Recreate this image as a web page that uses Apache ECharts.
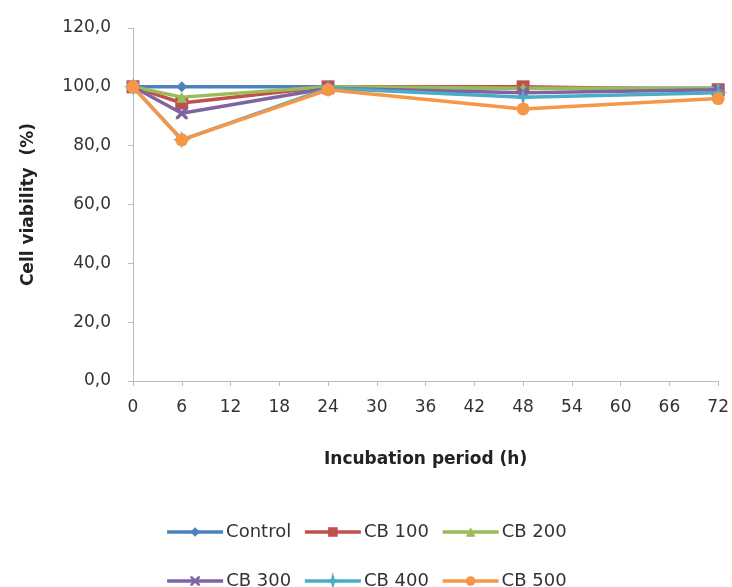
<!DOCTYPE html>
<html><head><meta charset="utf-8">
<script src="https://cdn.jsdelivr.net/npm/echarts@6/dist/echarts.min.js"></script>
<style>html,body{margin:0;padding:0;background:#fff}#c{width:732px;height:587px}</style>
</head><body><div id="c"></div>
<script>
const hours = [0, 6, 24, 48, 72];
const seriesNames = ['Control', 'CB 100', 'CB 200', 'CB 300', 'CB 400', 'CB 500'];
const control = [100, 100, 100, 99.5, 99.5];
const cb100 = [100, 94.5, 100, 100, 99];
const cb200 = [100, 96.5, 100, 99.5, 99.5];
const cb300 = [100, 91, 99.5, 98, 99];
const cb400 = [100, 82, 99.5, 96.5, 98];
const cb500 = [100, 82, 99, 92.5, 96];
const colors = ['#4F81BD', '#C0504D', '#9BBB59', '#8064A2', '#4BACC6', '#F79646'];
const symbols = ['diamond', 'rect', 'triangle',
  'path://M0,0 L2,0 L5,3 L8,0 L10,0 L10,2 L7,5 L10,8 L10,10 L8,10 L5,7 L2,10 L0,10 L0,8 L3,5 L0,2 Z',
  'path://M5,0 L6,4 L10,5 L6,6 L5,10 L4,6 L0,5 L4,4 Z',
  'circle'];
const symbolSizes = [11, 13, 11, 12, 12, 13];
const allData = [control, cb100, cb200, cb300, cb400, cb500];

const font = '"DejaVu Sans", "Open Sans", sans-serif';
const legendBase = {
  left: 'center',
  itemWidth: 56,
  itemHeight: 12,
  itemGap: 12,
  lineStyle: { width: 3.5 },
  textStyle: { fontFamily: font, fontSize: 18, color: '#333', padding: [0, 0, 0, -2] }
};
const chart = echarts.init(document.getElementById('c'));
chart.setOption({
  animation: false,
  color: colors,
  grid: { left: 133, right: 13, top: 28, bottom: 206 },
  legend: [
    Object.assign({ data: seriesNames.slice(0, 3), top: 518 }, legendBase),
    Object.assign({ data: seriesNames.slice(3, 6), top: 567 }, legendBase)
  ],
  xAxis: {
    type: 'value', min: 0, max: 72, interval: 6,
    name: 'Incubation period (h)', nameLocation: 'middle', nameGap: 70,
    nameTextStyle: { fontFamily: font, fontSize: 17, fontWeight: 'bold', color: '#222' },
    axisLine: { lineStyle: { color: '#bbb', width: 1 } },
    axisTick: { show: true, length: 5, lineStyle: { color: '#bbb' } },
    axisLabel: { fontFamily: font, fontSize: 17, color: '#333', margin: 18 },
    splitLine: { show: false }
  },
  yAxis: {
    type: 'value', min: 0, max: 120, interval: 20,
    name: 'Cell viability  (%)', nameLocation: 'middle', nameGap: 96,
    nameTextStyle: { fontFamily: font, fontSize: 17, fontWeight: 'bold', color: '#222' },
    axisLine: { show: true, lineStyle: { color: '#bbb', width: 1 } },
    axisTick: { show: true, length: 5, lineStyle: { color: '#bbb' } },
    axisLabel: { fontFamily: font, fontSize: 17, color: '#333', margin: 22,
      formatter: v => v.toFixed(1).replace('.', ',') },
    splitLine: { show: false }
  },
  series: seriesNames.map((n, i) => ({
    name: n, type: 'line',
    data: hours.map((h, j) => [h, allData[i][j]]),
    symbol: symbols[i], symbolSize: symbolSizes[i],
    lineStyle: { width: 3.5, color: colors[i] },
    itemStyle: { color: colors[i], borderColor: colors[i], borderWidth: i === 4 ? 1.5 : 0 },
    z: 2 + i
  }))
});
</script></body></html>
